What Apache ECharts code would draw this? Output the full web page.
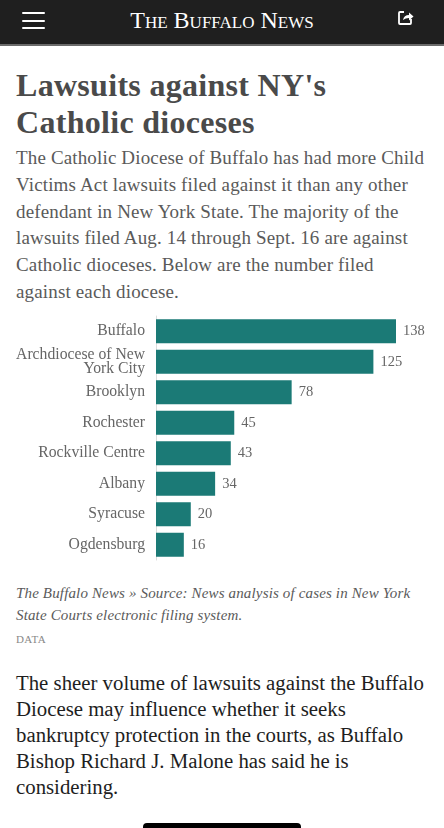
<!DOCTYPE html>
<html>
<head>
<meta charset="utf-8">
<script src="https://cdn.jsdelivr.net/npm/echarts@6/dist/echarts.min.js"></script>
<style>
  html, body { margin: 0; padding: 0; background: #fff; width: 444px; height: 828px; overflow: hidden; }
  body { position: relative; font-family: "Liberation Serif", "DejaVu Serif", serif; }
  .abs { position: absolute; white-space: nowrap; }
  #header { position: absolute; left: 0; top: 0; width: 444px; height: 44px; background: #1f1f1f; border-bottom: 2px solid #6b6b6b; }
  .bar { position: absolute; left: 22px; width: 23px; height: 2px; background: #fff; border-radius: 1px; }
  #logo { position: absolute; left: 0; width: 444px; top: 6px; text-align: center; color: #fff; font-size: 24px; font-variant: small-caps; letter-spacing: 0px; line-height: 28px; }
  #title { left: 16px; top: 67px; font-size: 32px; font-weight: bold; line-height: 37px; color: #4a4a4a; letter-spacing: 0.3px; }
  #intro { left: 16px; top: 145px; font-size: 19px; line-height: 26.8px; color: #5a5a5a; letter-spacing: 0.15px; }
  #chart { position: absolute; left: 0; top: 300px; width: 444px; height: 280px; }
  #caption { left: 16px; top: 582px; font-size: 15px; font-style: italic; line-height: 22px; color: #5a5a5a; letter-spacing: 0.15px; }
  #data { left: 16px; top: 632px; font-size: 11px; line-height: 14px; color: #888; letter-spacing: 0.4px; }
  #body { left: 16px; top: 670px; font-size: 20.8px; line-height: 26px; color: #1e1e1e; }
  #home { position: absolute; left: 143px; top: 823px; width: 158px; height: 8px; background: #000; border-radius: 4px; }
</style>
</head>
<body>
<div id="header">
  <div class="bar" style="top:12px"></div>
  <div class="bar" style="top:20px"></div>
  <div class="bar" style="top:27px"></div>
  <div id="logo">The Buffalo News</div>
  <svg style="position:absolute;left:397px;top:9px" width="18" height="18" viewBox="0 0 18 18">
    <path d="M7 3 H3 Q2 3 2 4 V14 Q2 15 3 15 H13 Q14 15 14 14 V10" fill="none" stroke="#fff" stroke-width="1.8"/>
    <path d="M6 11 Q7 6 12 6 V3.5 L16.5 7.5 L12 11.5 V9 Q8.5 9 6 11 Z" fill="#fff"/>
  </svg>
</div>

<div id="title" class="abs">Lawsuits against NY's<br>Catholic dioceses</div>
<div id="intro" class="abs">The Catholic Diocese of Buffalo has had more Child<br>Victims Act lawsuits filed against it than any other<br>defendant in New York State. The majority of the<br>lawsuits filed Aug. 14 through Sept. 16 are against<br>Catholic dioceses. Below are the number filed<br>against each diocese.</div>

<div id="chart"></div>

<div id="caption" class="abs">The Buffalo News » Source: News analysis of cases in New York<br>State Courts electronic filing system.</div>
<div id="data" class="abs">DATA</div>
<div id="body" class="abs">The sheer volume of lawsuits against the Buffalo<br>Diocese may influence whether it seeks<br>bankruptcy protection in the courts, as Buffalo<br>Bishop Richard J. Malone has said he is<br>considering.</div>
<div id="home"></div>

<script>
const dioceses = ["Buffalo", "Archdiocese of New York City", "Brooklyn", "Rochester", "Rockville Centre", "Albany", "Syracuse", "Ogdensburg"];
const lawsuitsFiled = [138, 125, 78, 45, 43, 34, 20, 16];

const chart = echarts.init(document.getElementById('chart'), null, { renderer: 'canvas' });
chart.setOption({
  animation: false,
  grid: { left: 156, top: 16, width: 240, height: 244, containLabel: false },
  xAxis: {
    type: 'value', min: 0, max: 138, show: false
  },
  yAxis: {
    type: 'category', data: dioceses, inverse: true,
    axisLine: { show: true, lineStyle: { color: '#dcdcdc', width: 1 } },
    axisTick: { show: false },
    splitLine: { show: false },
    axisLabel: {
      margin: 11, color: '#666', fontSize: 15.7, lineHeight: 14,
      fontFamily: 'Liberation Serif',
      formatter: function (v) { return v === 'Archdiocese of New York City' ? 'Archdiocese of New\nYork City' : v; }
    }
  },
  series: [{
    type: 'bar', data: lawsuitsFiled, barWidth: 24,
    itemStyle: { color: '#1b7a76' },
    label: { show: true, position: 'right', distance: 7, color: '#666', fontSize: 14.5, fontFamily: 'Liberation Serif' }
  }]
});
</script>
</body>
</html>
